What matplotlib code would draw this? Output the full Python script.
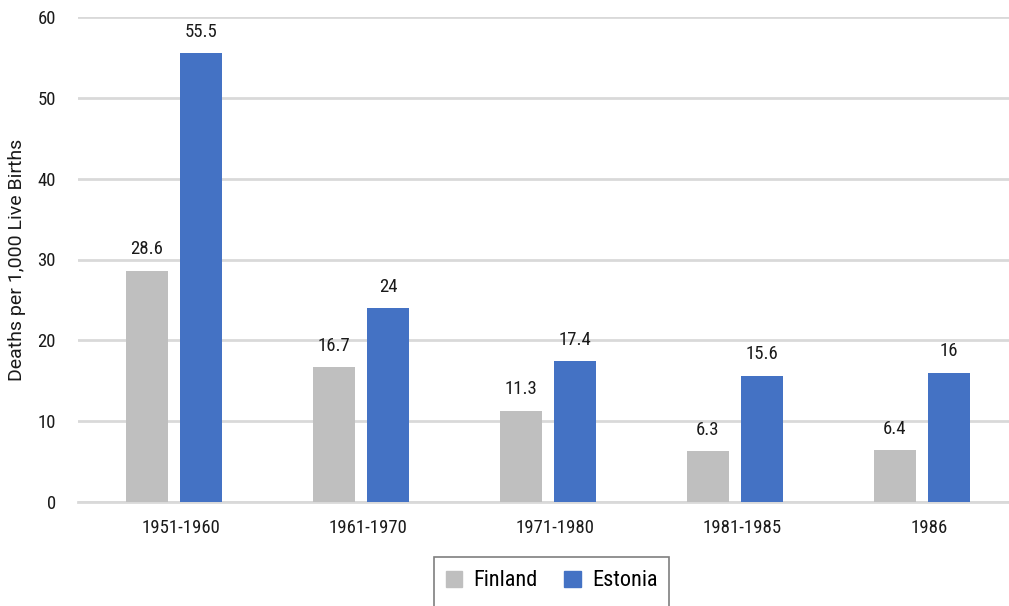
import matplotlib
matplotlib.use("Agg")
import matplotlib.pyplot as plt
from matplotlib import font_manager
from matplotlib.patches import Rectangle, Patch

# Infant mortality by period
periods = ["1951-1960", "1961-1970", "1971-1980", "1981-1985", "1986"]
finland = [28.6, 16.7, 11.3, 6.3, 6.4]
estonia = [55.5, 24, 17.4, 15.6, 16]
series_names = ["Finland", "Estonia"]
y_ticks = [0, 10, 20, 30, 40, 50, 60]
y_label = "Deaths per 1,000 Live Births"

available = {f.name for f in font_manager.fontManager.ttflist}
family = "Roboto"
for cand in ["Roboto Condensed", "Liberation Sans Narrow", "Roboto"]:
    if cand in available:
        family = cand
        break
plt.rcParams["font.family"] = [family, "DejaVu Sans"]

fin_color = "#BFBFBF"
est_color = "#4472C4"
grid_color = "#D9D9D9"
text_color = "#1a1a1a"

W, H = 1009, 606
fig = plt.figure(figsize=(W / 100, H / 100), dpi=100)
ax = fig.add_axes([78 / W, (H - 502) / H, (1009 - 78) / W, (502 - 17) / H])

x = list(range(len(periods)))
bw = 0.225
off = 0.145
ax.bar([i - off for i in x], finland, width=bw, color=fin_color, zorder=3)
ax.bar([i + off for i in x], estonia, width=bw, color=est_color, zorder=3)

for i in x:
    ax.annotate(f"{finland[i]:g}", (i - off, finland[i]), xytext=(0, 9),
                textcoords="offset points", ha="center", va="bottom",
                fontsize=13.5, color=text_color)
    ax.annotate(f"{estonia[i]:g}", (i + off, estonia[i]), xytext=(0, 9),
                textcoords="offset points", ha="center", va="bottom",
                fontsize=13.5, color=text_color)

ax.set_xlim(-0.513, 4.465)
ax.set_ylim(0, 60)
ax.set_yticks(y_ticks)
ax.set_yticklabels([str(t) for t in y_ticks], fontsize=13.5, color=text_color)
ax.set_xticks([i + 0.04 for i in x])
ax.set_xticklabels(periods, fontsize=13.5, color=text_color)
ax.tick_params(axis="both", length=0)
ax.tick_params(axis="y", pad=16)
ax.tick_params(axis="x", pad=12)

ax.grid(axis="y", color=grid_color, linewidth=2, zorder=0)
for s in ["top", "right", "left"]:
    ax.spines[s].set_visible(False)
ax.spines["bottom"].set_color(grid_color)
ax.spines["bottom"].set_linewidth(2)

ax.set_ylabel(y_label, fontsize=14, color=text_color,
              family=["Roboto", "DejaVu Sans"])
ax.yaxis.set_label_coords(-52 / (1009 - 78), 0.5)

# Legend frame running off the bottom edge
fig.patches.append(Rectangle((434 / W, -0.05), (669 - 434) / W, (H - 557) / H + 0.05,
                             transform=fig.transFigure, fill=False,
                             edgecolor="#7f7f7f", linewidth=1.2))
handles = [Patch(color=fin_color), Patch(color=est_color)]
fig.legend(handles, series_names, loc="center", bbox_to_anchor=(551.5 / W, 1 - 581 / H),
           ncol=2, frameon=False, fontsize=16, handlelength=0.75, handleheight=0.75,
           handletextpad=0.5, columnspacing=1.2)

fig.savefig("out.png", dpi=100)
